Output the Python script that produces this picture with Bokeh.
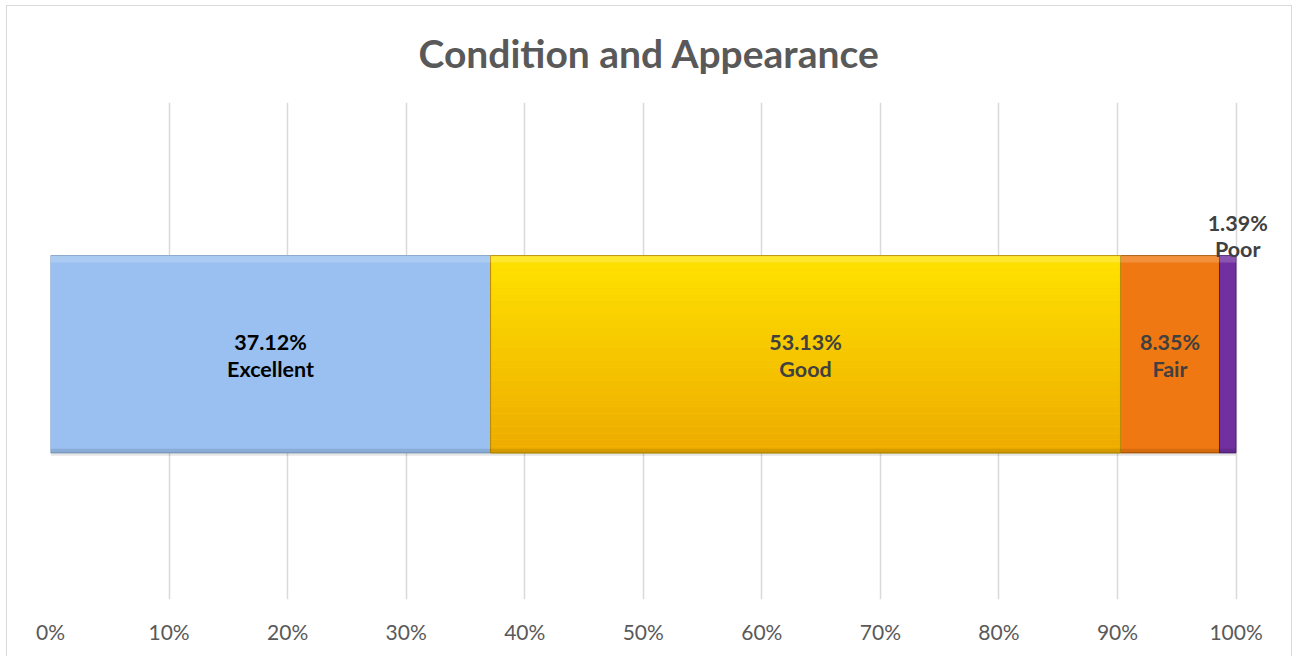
import numpy as np
from bokeh.plotting import figure
from bokeh.models import Range1d, FixedTicker, ColumnDataSource, InlineStyleSheet
from bokeh.core.properties import value
from bokeh.embed import file_html
from bokeh.resources import INLINE

# ---- data ----
categories = ["Excellent", "Good", "Fair", "Poor"]
shares = [37.12, 53.13, 8.35, 1.39]
pct_labels = ["37.12%", "53.13%", "8.35%", "1.39%"]
tick_values = [0, 10, 20, 30, 40, 50, 60, 70, 80, 90, 100]
tick_labels = ["0%", "10%", "20%", "30%", "40%", "50%", "60%", "70%", "80%", "90%", "100%"]
title_text = "Condition and Appearance"

# ---- styles ----
fill_colors = ["#99C0F0", "#FFCC00", "#F07812", "#7030A0"]
edge_colors = ["#7E9EC4", "#B88C00", "#A85200", "#4B1F70"]
label_colors = ["#000000", "#404040", "#404040", "#404040"]
FONT = "Lato"
BAR_Y = 0.4935
BAR_H = 0.397
X_END = 104  # a little room right of 100% so the outside label is not clipped

lefts = list(np.cumsum([0] + shares[:-1]))
rights = [l + s for l, s in zip(lefts, shares)]
centers = [(l + r) / 2 for l, r in zip(lefts, rights)]

p = figure(width=1292, height=656, output_backend="svg", toolbar_location=None,
           x_range=Range1d(0, X_END), y_range=Range1d(0, 1),
           min_border_left=50, min_border_right=9, min_border_top=102, min_border_bottom=57)
p.stylesheets = [InlineStyleSheet(css=(
    ":host { position: relative; }"
    ":host::after { content: ''; position: absolute; left: 6px; top: 5px; right: 0px; bottom: 0px;"
    " border: 1px solid #d9d9d9; border-bottom: none; pointer-events: none; z-index: 10; }"))]

p.title.text = title_text
p.title.text_font = FONT
p.title.text_font_size = "39px"
p.title.text_font_style = "bold"
p.title.text_color = "#595959"
p.title.align = "left"
p.title.offset = 368
p.title.standoff = 53

p.outline_line_color = None
p.yaxis.visible = False
p.ygrid.visible = False
p.xgrid.grid_line_color = "#d9d9d9"
p.xgrid.grid_line_width = 1.5
p.xaxis.ticker = FixedTicker(ticks=tick_values)
p.xaxis.major_label_overrides = {v: t for v, t in zip(tick_values, tick_labels)}
p.xaxis.axis_line_color = None
p.xaxis.major_tick_line_color = None
p.xaxis.minor_tick_line_color = None
p.xaxis.major_label_text_font = FONT
p.xaxis.major_label_text_font_size = "21px"
p.xaxis.major_label_text_color = "#595959"
p.xaxis.major_label_standoff = 13

src = ColumnDataSource(dict(cat=categories, left=lefts, right=rights, center=centers,
                            pct=pct_labels, fill=fill_colors, edge=edge_colors,
                            lab=label_colors))

top = BAR_Y + BAR_H / 2
bot = BAR_Y - BAR_H / 2
# soft drop shadow
p.quad(left="left", right="right", bottom=bot - 0.006, top=top - 0.004, source=src,
       fill_color="#000000", fill_alpha=0.10, line_color=None)
p.quad(left="left", right="right", bottom=bot, top=top, source=src,
       fill_color="fill", line_color="edge", line_width=1)

# vertical gradient for the Good bar
gi = categories.index("Good")
n = 30
c0 = np.array([0xFF, 0xE2, 0x00])
c1 = np.array([0xEE, 0xAC, 0x00])
for k in range(n):
    t = k / (n - 1)
    c = (c0 * (1 - t) + c1 * t).astype(int)
    b_top = top - (top - bot) * k / n
    b_bot = top - (top - bot) * (k + 1) / n
    p.quad(left=[lefts[gi]], right=[rights[gi]], top=[b_top], bottom=[b_bot],
           fill_color="#%02x%02x%02x" % tuple(c), line_color=None)
p.quad(left=[lefts[gi]], right=[rights[gi]], top=[top], bottom=[bot],
       fill_color=None, line_color=edge_colors[gi], line_width=1)

# subtle bevel highlight / shadow strips
bev = 0.014
p.quad(left="left", right="right", bottom=top - bev, top=top, source=src,
       fill_color="#ffffff", fill_alpha=0.18, line_color=None)
p.quad(left="left", right="right", bottom=bot, top=bot + bev * 0.6, source=src,
       fill_color="#000000", fill_alpha=0.10, line_color=None)

# labels inside bars (first three)
isrc = ColumnDataSource(dict(center=centers[:3], pct=pct_labels[:3], cat=categories[:3],
                             lab=label_colors[:3], y=[BAR_Y] * 3))
p.text(x="center", y="y", text="pct", source=isrc, text_color="lab",
       text_font=value(FONT), text_font_size="21.5px", text_font_style="bold",
       text_align="center", text_baseline="middle", y_offset=-12)
p.text(x="center", y="y", text="cat", source=isrc, text_color="lab",
       text_font=value(FONT), text_font_size="21.5px", text_font_style="bold",
       text_align="center", text_baseline="middle", y_offset=15)

# label above the small Poor bar
osrc = ColumnDataSource(dict(center=centers[3:], pct=pct_labels[3:], cat=categories[3:],
                             lab=label_colors[3:], y=[top]))
p.text(x="center", y="y", text="pct", source=osrc, text_color="lab",
       text_font=value(FONT), text_font_size="21.5px", text_font_style="bold",
       text_align="center", text_baseline="middle", x_offset=10, y_offset=-33)
p.text(x="center", y="y", text="cat", source=osrc, text_color="lab",
       text_font=value(FONT), text_font_size="21.5px", text_font_style="bold",
       text_align="center", text_baseline="middle", x_offset=10, y_offset=-7)

open("out.html", "w").write(file_html(p, INLINE))
